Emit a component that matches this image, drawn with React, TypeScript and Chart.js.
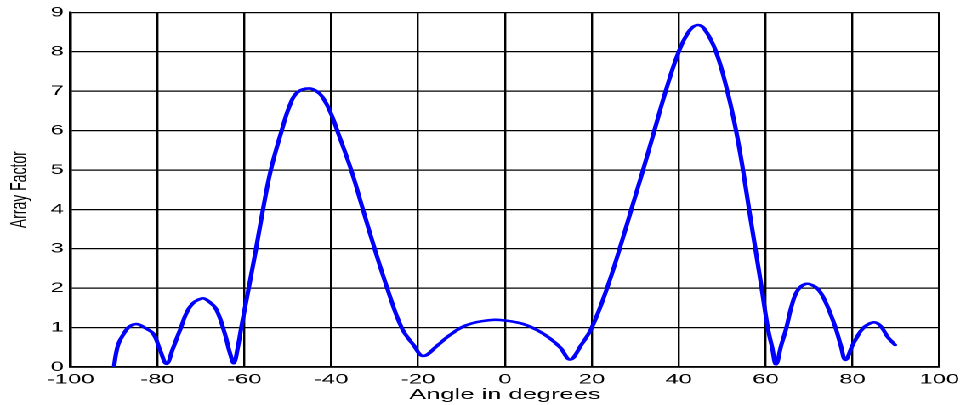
import React, { useEffect, useRef } from "react";
import { Chart, registerables } from "chart.js";

Chart.register(...registerables);

// Angle (degrees) and array factor values
const angles = [
  -90, -89.6, -89, -88, -86.5, -84.8, -83, -81, -79.4, -77.9, -76.5, -74.8, -72.5, -69.8, -68, -66.4, -64.5,
  -63.3, -62.4, -61.5, -60.7, -59, -57.3, -55.7, -53.9, -51.4, -49.5, -47.8, -45.1, -43, -41.5, -40, -38.6,
  -35.4, -32.7, -30, -27.1, -23.8, -21, -18.8, -15.5, -12.7, -8.9, -3.5, 0, 4.2, 8.75, 12.6, 15, 17.5, 20,
  23.5, 26.4, 29.1, 31.8, 34.4, 37, 40, 42.5, 44.4, 46, 48.6, 51.2, 53.2, 54.8, 56.2, 57.65, 59.1, 60.5,
  61.5, 62.4, 63.6, 64.8, 66, 67.4, 69.3, 71.2, 72.6, 74.2, 76.1, 77.3, 78.4, 80, 80.9, 82.4, 84.65, 86.3,
  88.2, 89.8,
];
const arrayFactor = [
  0, 0.3, 0.58, 0.8, 1.02, 1.09, 1.0, 0.85, 0.43, 0.08, 0.45, 0.94, 1.53, 1.74, 1.65, 1.45, 0.85,
  0.35, 0.1, 0.5, 1, 2, 3, 4, 5, 6, 6.65, 6.97, 7.07, 6.97, 6.76, 6.42, 6.0,
  5, 4, 3, 2, 1, 0.55, 0.28, 0.55, 0.81, 1.06, 1.19, 1.18, 1.09, 0.85, 0.51, 0.19, 0.55, 1,
  2, 3, 4, 5, 6, 7, 8, 8.54, 8.68, 8.57, 8, 7, 6, 5, 4, 3, 2, 1,
  0.5, 0.07, 0.55, 1.0, 1.55, 1.95, 2.11, 2.05, 1.9, 1.55, 1.0, 0.55, 0.18, 0.55, 0.73, 0.98, 1.13, 1.06,
  0.75, 0.56,
];

const xMin = -100;
const xMax = 100;
const xStep = 20;
const yMin = 0;
const yMax = 9;
const yStep = 1;
const xTitle = "Angle in degrees";
const yTitle = "Array Factor";

const STRETCH = 966 / 568;
const CW = 568;
const CH = 405;

export default function App() {
  const ref = useRef<HTMLCanvasElement | null>(null);

  useEffect(() => {
    document.body.style.margin = "0";
    const canvas = ref.current;
    if (!canvas) return;
    const points = angles.map((a, i) => ({ x: a, y: arrayFactor[i] }));
    const chart = new Chart(canvas, {
      type: "line",
      data: {
        datasets: [
          {
            data: points,
            borderColor: "#0000FF",
            borderWidth: 2.6,
            pointRadius: 0,
            tension: 0.4,
            borderJoinStyle: "round",
            borderCapStyle: "round",
            fill: false,
          },
        ],
      },
      options: {
        animation: false,
        responsive: false,
        devicePixelRatio: 2,
        layout: { padding: { left: 0, right: 15.3, top: 12, bottom: 0 } },
        plugins: { legend: { display: false }, tooltip: { enabled: false } },
        scales: {
          x: {
            type: "linear",
            min: xMin,
            max: xMax,
            ticks: {
              stepSize: xStep,
              color: "#000",
              padding: 4,
              font: { family: "'Liberation Sans', Arial, sans-serif", size: 14 },
              maxRotation: 0,
            },
            grid: { color: "#000", lineWidth: 1.2, drawTicks: false },
            border: { color: "#000", width: 1.6 },
            title: {
              display: true,
              text: xTitle,
              color: "#000",
              font: { family: "'Liberation Sans', Arial, sans-serif", size: 15 },
              padding: { top: 0, bottom: 1 },
            },
            afterFit: (scale: any) => {
              scale.height = 38;
            },
          },
          y: {
            type: "linear",
            min: yMin,
            max: yMax,
            ticks: {
              stepSize: yStep,
              color: "#000",
              padding: 4,
              font: { family: "'Liberation Sans', Arial, sans-serif", size: 14 },
            },
            grid: { color: "#000", lineWidth: 1.2, drawTicks: false },
            border: { color: "#000", width: 1.6 },
            title: {
              display: true,
              text: yTitle,
              color: "#000",
              font: { family: "'Liberation Sans', Arial, sans-serif", size: 14 },
              padding: { top: 3, bottom: 0 },
            },
            afterFit: (scale: any) => {
              scale.width = 41.5;
            },
          },
        },
      },
    });
    return () => chart.destroy();
  }, []);

  return (
    <div
      style={{
        position: "fixed",
        left: 0,
        top: 0,
        width: CW,
        height: CH,
        transform: `scaleX(${STRETCH})`,
        transformOrigin: "0 0",
        background: "#fff",
      }}
    >
      <canvas ref={ref} width={CW} height={CH} style={{ width: CW, height: CH, display: "block" }} />
    </div>
  );
}
